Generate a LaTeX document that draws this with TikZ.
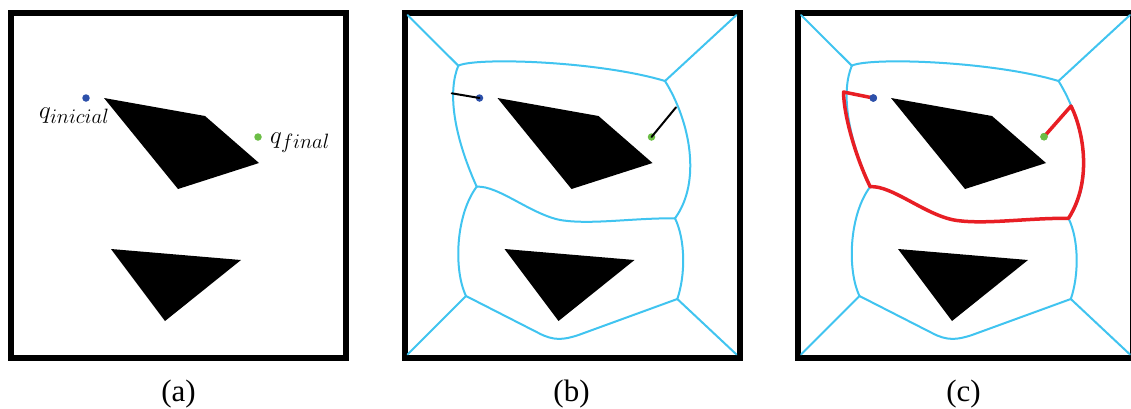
\documentclass[tikz,border=0pt]{standalone}
\usepackage{fontspec}
\setmainfont{Liberation Serif}
\definecolor{vcyan}{RGB}{64,196,240}
\definecolor{pred}{RGB}{232,30,36}
\definecolor{qblue}{RGB}{45,80,170}
\definecolor{qgreen}{RGB}{108,190,70}
\tikzset{
  frame/.style={line width=6pt, draw=black},
  obst/.style={fill=black, draw=none},
  vor/.style={draw=vcyan, line width=2pt, line join=round, line cap=round},
  retr/.style={draw=black, line width=2pt, line cap=round},
  rpath/.style={draw=pred, line width=3.5pt, line join=round, line cap=round},
  qdot/.style={circle, inner sep=0pt, minimum size=7.5pt},
  captxt/.style={anchor=base, font=\fontsize{31}{34}\selectfont},
  qlab/.style={anchor=base west, inner sep=0pt, font=\fontsize{31}{34}\selectfont}
}
\newcommand{\drawobstacles}{%
  \path[obst] (104,98) -- (205,116) -- (259,163) -- (178,189) -- cycle;
  \path[obst] (111,249) -- (241,260) -- (165,321) -- cycle;
}
\newcommand{\drawframe}{%
  \draw[frame] (11,12.5) rectangle (346,358);
}
\newcommand{\drawvoronoi}{%
  \coordinate (TL) at (64.8,65.7);
  \coordinate (TR) at (271.5,81);
  \coordinate (ML) at (83.2,186.7);
  \coordinate (MR) at (281.5,218.3);
  \coordinate (BL) at (72.5,296);
  \coordinate (BR) at (283.8,299);
  \coordinate (cTL) at (14,15);
  \coordinate (cTR) at (343,15);
  \coordinate (cBL) at (14,354.5);
  \coordinate (cBR) at (343,354.5);
  \draw[vor] (cTL) -- (TL);
  \draw[vor] (cTR) -- (TR);
  \draw[vor] (cBL) -- (BL);
  \draw[vor] (cBR) -- (BR);
  \draw[vor] (TL) .. controls (82,57) and (205,61) .. (TR);
  \draw[vor] (TL) .. controls (54,92) and (60,135) .. (ML);
  \draw[vor] (TR) .. controls (297,122) and (308,182) .. (MR);
  \draw[vor] (ML) .. controls (105,185) and (140,216.5) .. (170,220.5)
                  .. controls (200,224.5) and (240,218) .. (MR);
  \draw[vor] (ML) .. controls (62,215) and (60,270) .. (BL);
  \draw[vor] (MR) .. controls (292,240) and (292,275) .. (BR);
  \draw[vor] (BL) -- (145,333) .. controls (160,341) and (170,340) .. (185,335) -- (BR);
}
\begin{document}
\begin{tikzpicture}[x=1pt, y=-1pt]
\useasboundingbox (0,0) rectangle (1131,408);
\fill[white] (0,0) rectangle (1131,408);

% ---------- (a)
\begin{scope}
  \drawframe
  \drawobstacles
  \node[qdot, fill=qblue] (qa1) at (86,98) {};
  \node[qdot, fill=qgreen] (qa2) at (258,137) {};
  \node[qlab] (la1) at (39,118) {$q_{inicial}$};
  \node[qlab] (la2) at (270,143) {$q_{final}$};
  \node[captxt] (capa) at (178.5,401) {(a)};
\end{scope}

% ---------- (b)
\begin{scope}[xshift=393.5pt]
  \drawframe
  \drawvoronoi
  \drawobstacles
  \coordinate (rb1) at (58.2,93.3);
  \coordinate (rb2) at (282.5,107.3);
  \node[qdot, fill=qblue] (qb1) at (86,98) {};
  \node[qdot, fill=qgreen] (qb2) at (258,137) {};
  \draw[retr] (qb1.center) -- (rb1);
  \draw[retr] (qb2.center) -- (rb2);
  \node[captxt] (capb) at (178,401) {(b)};
\end{scope}

% ---------- (c)
\begin{scope}[xshift=787pt]
  \drawframe
  \drawvoronoi
  \drawobstacles
  \coordinate (rc1) at (56.5,92);
  \coordinate (rc2) at (284,106);
  \node[qdot, fill=qblue] (qc1) at (86.3,98) {};
  \node[qdot, fill=qgreen] (qc2) at (257,136.7) {};
  \draw[rpath] (qc1.center) -- (rc1) .. controls (57,118) and (70,160) .. (ML);
  \draw[rpath] (ML) .. controls (105,185) and (140,216.5) .. (170,220.5)
                    .. controls (200,224.5) and (240,218) .. (MR);
  \draw[rpath] (MR) .. controls (306,180) and (296,130) .. (rc2) -- (qc2.center);
  \node[qdot, fill=qblue] at (qc1) {};
  \node[qdot, fill=qgreen] at (qc2) {};
  \node[captxt] (capc) at (176.5,401) {(c)};
\end{scope}
\end{tikzpicture}
\end{document}
